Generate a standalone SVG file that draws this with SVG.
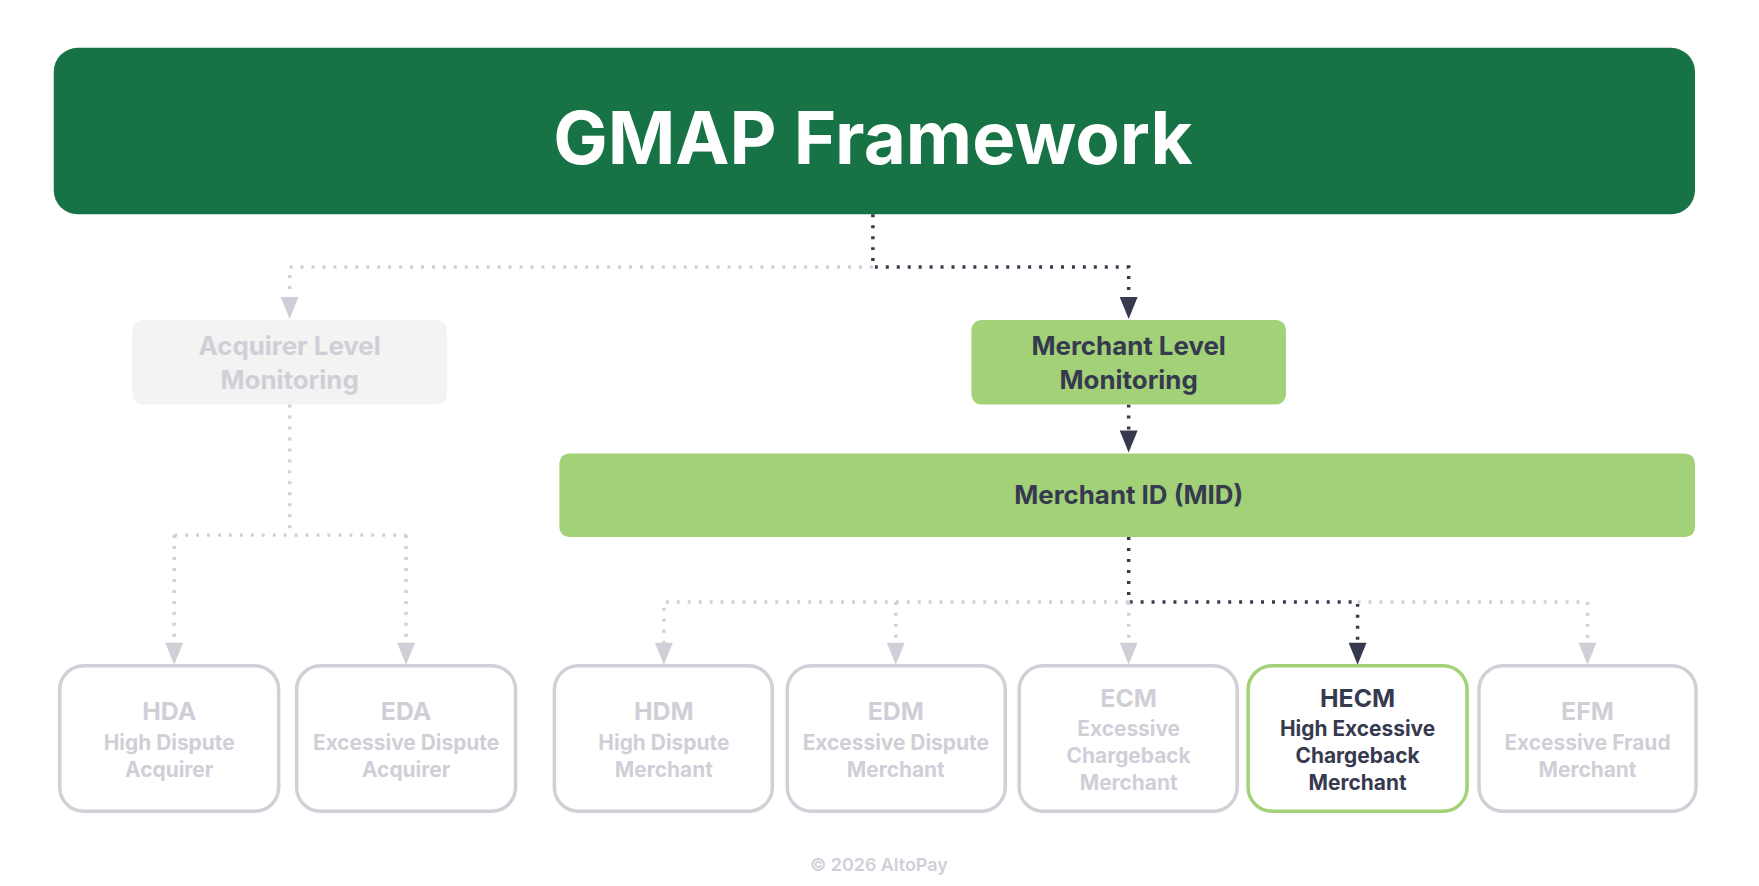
<svg xmlns="http://www.w3.org/2000/svg" width="1759" height="886" viewBox="0 0 1759 886">
<style>
text{font-family:Inter,"Liberation Sans",sans-serif;font-weight:700;text-anchor:middle}
.l{fill:none;stroke-width:3.5;stroke-dasharray:3 8}
.lg{stroke:#d0d1d8}.dk{stroke:#363a4f}
.box{fill:#fff;stroke:#d0d1d8;stroke-width:3.5}
.gt{fill:#cfd0d7}.dt{fill:#363a4f}
.ab{font-size:25px}.sb{font-size:21px}
</style>
<rect width="1759" height="886" fill="#fff"/>
<g transform="scale(0.9953 0.9965)">
<g id="connectors">
<path class="l lg" d="M877,268 H291 V300"/>
<path class="l dk" d="M877,215 V268 H1134 V300"/>
<path d="M282,298 L300,298 L291,320Z" fill="#cfd0d7"/>
<path d="M1125,298 L1143,298 L1134,320Z" fill="#363a4f"/>
<path class="l dk" d="M1134,406 V434"/>
<path d="M1125,432 L1143,432 L1134,454Z" fill="#363a4f"/>
<path class="l lg" d="M291,406 V537 M175,537 H408 M175,537 V645 M408,537 V645"/>
<path d="M166,645 L184,645 L175,667Z" fill="#cfd0d7"/>
<path d="M399,645 L417,645 L408,667Z" fill="#cfd0d7"/>
<path class="l dk" d="M1134,539 V604 H1364 V645"/>
<path class="l lg" d="M1134,604 H667 V645 M900,604 V645 M1134,604 V645 M1364,604 H1595 V645"/>
<path d="M658,645 L676,645 L667,667Z" fill="#cfd0d7"/>
<path d="M891,645 L909,645 L900,667Z" fill="#cfd0d7"/>
<path d="M1125,645 L1143,645 L1134,667Z" fill="#cfd0d7"/>
<path d="M1355,645 L1373,645 L1364,667Z" fill="#363a4f"/>
<path d="M1586,645 L1604,645 L1595,667Z" fill="#cfd0d7"/>
</g>
<g id="title"><rect x="54" y="48" width="1649" height="167" rx="24" fill="#177245"/><text x="877" y="165" font-size="73" fill="#fff">GMAP Framework</text></g>
<g id="acquirer"><rect x="133" y="321" width="316" height="85" rx="10" fill="#f2f3f2"/><text x="291" y="356" font-size="26" class="gt">Acquirer Level</text><text x="291" y="390" font-size="26" class="gt">Monitoring</text></g>
<g id="merchant"><rect x="976" y="321" width="316" height="85" rx="10" fill="#a3d177"/><text x="1134" y="356" font-size="26" class="dt">Merchant Level</text><text x="1134" y="390" font-size="26" class="dt">Monitoring</text></g>
<g id="mid"><rect x="562" y="455" width="1141" height="84" rx="10" fill="#a3d177"/><text x="1134" y="506" font-size="26" class="dt">Merchant ID (MID)</text></g>
<g id="hda"><rect class="box" x="60" y="668" width="220" height="146" rx="24"/><text x="170" y="723" class="ab gt">HDA</text><text x="170" y="753" class="sb gt">High Dispute</text><text x="170" y="780" class="sb gt">Acquirer</text></g>
<g id="eda"><rect class="box" x="298" y="668" width="220" height="146" rx="24"/><text x="408" y="723" class="ab gt">EDA</text><text x="408" y="753" class="sb gt">Excessive Dispute</text><text x="408" y="780" class="sb gt">Acquirer</text></g>
<g id="hdm"><rect class="box" x="557" y="668" width="219" height="146" rx="24"/><text x="667" y="723" class="ab gt">HDM</text><text x="667" y="753" class="sb gt">High Dispute</text><text x="667" y="780" class="sb gt">Merchant</text></g>
<g id="edm"><rect class="box" x="791" y="668" width="219" height="146" rx="24"/><text x="900" y="723" class="ab gt">EDM</text><text x="900" y="753" class="sb gt">Excessive Dispute</text><text x="900" y="780" class="sb gt">Merchant</text></g>
<g id="ecm"><rect class="box" x="1024" y="668" width="219" height="146" rx="24"/><text x="1134" y="709" class="ab gt">ECM</text><text x="1134" y="739" class="sb gt">Excessive</text><text x="1134" y="766" class="sb gt">Chargeback</text><text x="1134" y="793" class="sb gt">Merchant</text></g>
<g id="hecm"><rect class="box" x="1254" y="668" width="220" height="146" rx="24" style="stroke:#a3d177"/><text x="1364" y="709" class="ab dt">HECM</text><text x="1364" y="739" class="sb dt">High Excessive</text><text x="1364" y="766" class="sb dt">Chargeback</text><text x="1364" y="793" class="sb dt">Merchant</text></g>
<g id="efm"><rect class="box" x="1486" y="668" width="218" height="146" rx="24"/><text x="1595" y="723" class="ab gt">EFM</text><text x="1595" y="753" class="sb gt">Excessive Fraud</text><text x="1595" y="780" class="sb gt">Merchant</text></g>
<text x="883" y="874" font-size="18" class="gt" style="font-weight:600">© 2026 AltoPay</text>
</g>
</svg>
